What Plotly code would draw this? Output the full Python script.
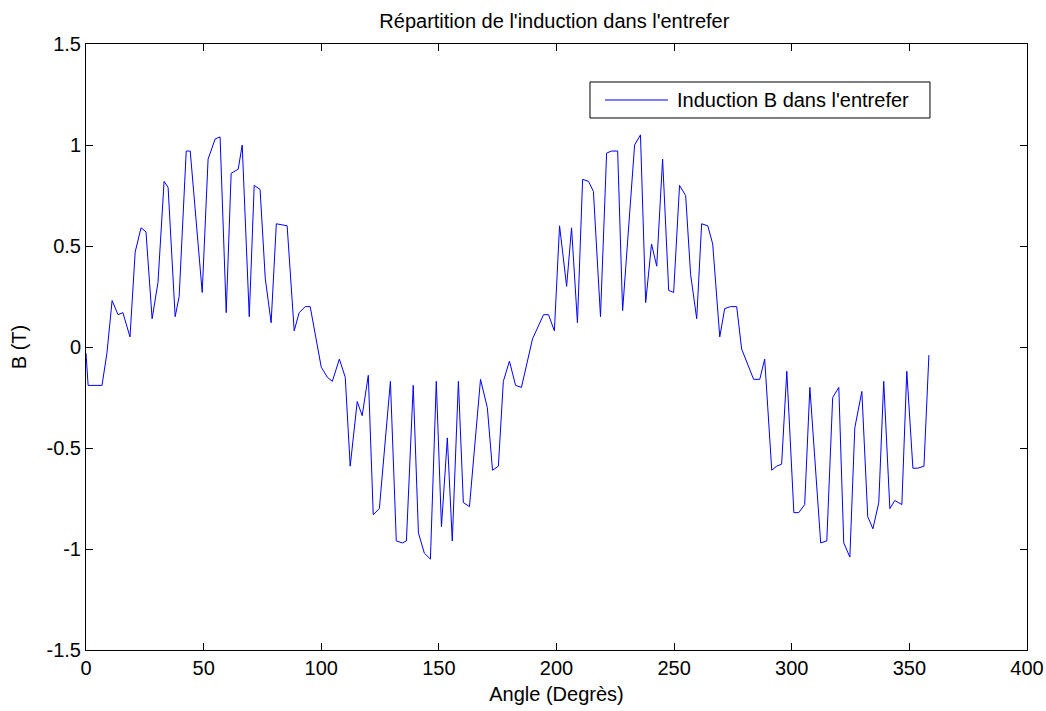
import plotly.graph_objects as go

# Angle (degrees) and induction B (T)
angle = [0, 0.9, 6.8, 8.9, 11.1, 13.6, 15.7, 18.7, 20.9, 23.4, 25.5, 28.1, 30.6, 33.2, 34.9,
         37.9, 39.6, 42.6, 44.3, 49.4, 51.9, 54.9, 57.0, 59.6, 61.7, 64.7, 66.4, 69.4, 71.5,
         74.0, 76.2, 78.7, 80.9, 85.5, 88.5, 90.6, 93.2, 95.3, 100.0, 102.6, 104.7, 107.7,
         110.2, 112.3, 115.3, 117.4, 120.0, 122.1, 124.7, 129.4, 131.9, 134.5, 136.2, 139.1,
         141.3, 143.8, 146.4, 148.9, 151.1, 153.6, 155.7, 158.3, 160.4, 163.0, 167.7, 170.6,
         172.8, 175.3, 177.4, 180.0, 182.6, 185.1, 189.8, 194.5, 196.6, 199.1, 201.3, 204.3,
         206.4, 208.9, 211.1, 213.6, 215.7, 218.7, 221.3, 223.4, 226.0, 228.1, 233.2, 235.7,
         237.9, 240.4, 242.6, 245.1, 247.7, 249.8, 252.3, 254.9, 257.0, 259.6, 261.7, 264.3,
         266.4, 269.4, 271.5, 274.0, 276.6, 278.7, 283.8, 286.4, 288.5, 291.5, 293.6, 295.7,
         297.9, 300.9, 303.0, 305.5, 307.7, 312.3, 314.9, 317.4, 320.0, 322.1, 324.7, 326.8,
         329.8, 332.3, 334.5, 337.0, 339.1, 341.7, 343.8, 346.8, 348.9, 351.5, 353.6, 356.2,
         358.3]
induction = [-0.03, -0.19, -0.19, -0.03, 0.23, 0.16, 0.17, 0.05, 0.47, 0.59, 0.57, 0.14, 0.32,
             0.82, 0.79, 0.15, 0.25, 0.97, 0.97, 0.27, 0.93, 1.03, 1.04, 0.17, 0.86, 0.88, 1.00,
             0.15, 0.80, 0.78, 0.34, 0.12, 0.61, 0.60, 0.08, 0.17, 0.20, 0.20, -0.10, -0.15,
             -0.17, -0.06, -0.15, -0.59, -0.27, -0.34, -0.14, -0.83, -0.80, -0.17, -0.96, -0.97,
             -0.96, -0.19, -0.92, -1.02, -1.05, -0.17, -0.89, -0.45, -0.96, -0.17, -0.77, -0.79,
             -0.16, -0.30, -0.61, -0.59, -0.17, -0.07, -0.19, -0.20, 0.04, 0.16, 0.16, 0.08,
             0.60, 0.30, 0.59, 0.12, 0.83, 0.82, 0.77, 0.15, 0.96, 0.97, 0.97, 0.18, 1.00, 1.05,
             0.22, 0.51, 0.40, 0.93, 0.28, 0.27, 0.80, 0.75, 0.36, 0.14, 0.61, 0.60, 0.51, 0.05,
             0.19, 0.20, 0.20, -0.01, -0.16, -0.16, -0.06, -0.61, -0.59, -0.58, -0.12, -0.82,
             -0.82, -0.78, -0.20, -0.97, -0.96, -0.25, -0.20, -0.97, -1.04, -0.40, -0.22, -0.84,
             -0.90, -0.77, -0.17, -0.80, -0.76, -0.78, -0.12, -0.60, -0.60, -0.59, -0.04]

series_name = "Induction B dans l'entrefer"
x_ticks = [0, 50, 100, 150, 200, 250, 300, 350, 400]
y_ticks = [-1.5, -1, -0.5, 0, 0.5, 1, 1.5]
y_tick_text = ["-1.5", "-1", "-0.5", "0", "0.5", "1", "1.5"]

FONT = "Liberation Sans, Arial, sans-serif"
FS = 20
LINE_COLOR = "#0000ff"

fig = go.Figure()
fig.add_trace(go.Scatter(
    x=angle, y=induction, mode="lines",
    line=dict(color=LINE_COLOR, width=1),
    name=series_name, showlegend=False,
))

axis_common = dict(
    showline=True, linecolor="black", linewidth=1, mirror="ticks",
    ticks="inside", ticklen=7, tickcolor="black", tickwidth=1,
    showgrid=False, zeroline=False, automargin=False,
    tickfont=dict(family=FONT, size=FS, color="black"),
)

# MATLAB-style legend box (drawn in paper coordinates)
leg = dict(x0=0.5356, x1=0.8969, y0=0.8779, y1=0.9373)
leg_y = (leg["y0"] + leg["y1"]) / 2
fig.add_shape(type="rect", xref="paper", yref="paper",
              x0=leg["x0"], x1=leg["x1"], y0=leg["y0"], y1=leg["y1"],
              line=dict(color="black", width=1), fillcolor="white", layer="above")
fig.add_shape(type="line", xref="paper", yref="paper",
              x0=0.5515, x1=0.6185, y0=leg_y, y1=leg_y,
              line=dict(color=LINE_COLOR, width=1), layer="above")
fig.add_annotation(xref="paper", yref="paper", x=0.6259, y=leg_y,
                   xanchor="left", yanchor="middle", showarrow=False,
                   text=series_name,
                   font=dict(family=FONT, size=FS, color="black"))

fig.update_layout(
    width=1046, height=711,
    margin=dict(l=86, r=19, t=44, b=61),
    paper_bgcolor="white", plot_bgcolor="white",
    font=dict(family=FONT, size=FS, color="black"),
    title=dict(text="Répartition de l'induction dans l'entrefer",
               x=0.530, xanchor="center", y=0.970, yanchor="middle",
               font=dict(family=FONT, size=FS, color="black")),
    xaxis=dict(range=[0, 400], tickvals=x_ticks,
               title=dict(text="Angle (Degrès)", standoff=8,
                          font=dict(family=FONT, size=FS)),
               **axis_common),
    yaxis=dict(range=[-1.5, 1.5], tickvals=y_ticks, ticktext=y_tick_text,
               title=dict(text="B (T)", standoff=14,
                          font=dict(family=FONT, size=FS)),
               **axis_common),
    showlegend=False,
)

fig.write_html("out.html")
